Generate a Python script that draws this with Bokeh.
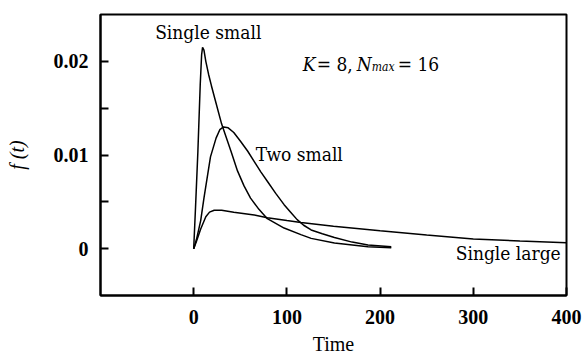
from bokeh.plotting import figure
from bokeh.models import Range1d, FixedTicker, NumeralTickFormatter
from bokeh.core.properties import value
from bokeh.embed import file_html
from bokeh.resources import INLINE

# ---- data ----
single_small_t = [0, 2, 4.5, 7, 8.5, 9.5, 11, 13, 16, 19, 23, 30, 40, 47, 54, 61, 70, 79, 97, 115, 126, 151, 187, 212]
single_small_f = [0, 0.0045, 0.0104, 0.0175, 0.0207, 0.0215, 0.0212, 0.0200, 0.0186, 0.0174, 0.0159, 0.0133, 0.0104,
                  0.0083, 0.0067, 0.0054, 0.0042, 0.0032, 0.0022, 0.0015, 0.0011, 0.0006, 0.0002, 0.0001]

two_small_t = [0, 3, 7.5, 11, 18, 24, 28, 32, 37, 43, 50, 58, 65, 72, 79, 88, 97, 104, 111, 118, 126, 138, 151, 170, 187, 212]
two_small_f = [0, 0.0010, 0.0030, 0.0054, 0.0098, 0.0118, 0.0127, 0.0130, 0.0129, 0.0124, 0.0115, 0.0104, 0.0093,
               0.0082, 0.0072, 0.0059, 0.0047, 0.0039, 0.0031, 0.0025, 0.0020, 0.0016, 0.0012, 0.0007, 0.0004, 0.0002]

single_large_t = [0, 3, 7.5, 13, 17, 22, 30, 43, 65, 79, 100, 115, 150, 200, 250, 300, 350, 400]
single_large_f = [0, 0.0008, 0.0021, 0.0034, 0.0039, 0.0041, 0.0041, 0.0039, 0.0036, 0.0033, 0.0030, 0.0028,
                  0.0024, 0.0019, 0.00145, 0.00104, 0.00083, 0.00064]

x_ticks = [0, 100, 200, 300, 400]
y_ticks = [0, 0.01, 0.02]
y_minor_ticks = [0.005, 0.015]

curve_labels = ["Single small", "Two small", "Single large"]
param_parts = ["K", "= 8,", "N", "max", "= 16"]

AXFONT = "Liberation Serif"
TXFONT = "DejaVu Serif Condensed"
LIFT = -9  # screen-pixel correction of the text baseline

p = figure(width=584, height=359, output_backend="svg", toolbar_location=None,
           x_range=Range1d(-100, 400), y_range=Range1d(-0.005, 0.025),
           min_border_left=100, min_border_right=18, min_border_top=14, min_border_bottom=64)

p.xgrid.visible = False
p.ygrid.visible = False
p.outline_line_color = "black"
p.outline_line_width = 2

for ax in (p.xaxis[0], p.yaxis[0]):
    ax.axis_line_width = 2
    ax.axis_line_color = "black"
    ax.major_tick_in = 8
    ax.major_tick_out = 0
    ax.major_tick_line_width = 2
    ax.minor_tick_in = 8
    ax.minor_tick_out = 0
    ax.minor_tick_line_width = 2
    ax.major_label_text_font = AXFONT
    ax.major_label_text_font_style = "bold"
    ax.major_label_text_font_size = "20px"
    ax.major_label_text_color = "black"
    ax.axis_label_text_font = AXFONT
    ax.axis_label_text_font_size = "20px"
    ax.axis_label_text_color = "black"

p.xaxis[0].ticker = FixedTicker(ticks=x_ticks, minor_ticks=[])
p.yaxis[0].ticker = FixedTicker(ticks=y_ticks, minor_ticks=y_minor_ticks)
p.yaxis[0].formatter = NumeralTickFormatter(format="0.[00]")
p.xaxis[0].major_label_standoff = 14
p.yaxis[0].major_label_standoff = 12
p.xaxis[0].axis_label = "Time"
p.xaxis[0].axis_label_text_font_style = "normal"
p.xaxis[0].axis_label_standoff = 6
p.yaxis[0].axis_label = "f (t)"
p.yaxis[0].axis_label_text_font_style = "italic"
p.yaxis[0].axis_label_standoff = 23

p.line(single_small_t, single_small_f, line_color="black", line_width=1.5)
p.line(two_small_t, two_small_f, line_color="black", line_width=1.5)
p.line(single_large_t, single_large_f, line_color="black", line_width=1.5)

# curve labels
p.text(x=[15.6], y=[0.02214], text=[curve_labels[0]], text_align="center", y_offset=LIFT,
       text_font=value(TXFONT), text_font_size="19px", text_baseline="alphabetic", text_color="black")
p.text(x=[66.5], y=[0.0091], text=[curve_labels[1]], text_align="left", y_offset=LIFT,
       text_font=value(TXFONT), text_font_size="19px", text_baseline="alphabetic", text_color="black")
p.text(x=[393.8], y=[-0.00139], text=[curve_labels[2]], text_align="right", y_offset=LIFT,
       text_font=value(TXFONT), text_font_size="19px", text_baseline="alphabetic", text_color="black")

# parameter annotation: K = 8, N_max = 16
ax0, ay0 = 117, 0.01879
piece_style = [
    dict(x_offset=0, y_offset=LIFT, text_font_style="italic", text_font_size="19px"),
    dict(x_offset=14, y_offset=LIFT, text_font_style="normal", text_font_size="19px"),
    dict(x_offset=54, y_offset=LIFT, text_font_style="italic", text_font_size="19px"),
    dict(x_offset=69, y_offset=LIFT + 3, text_font_style="italic", text_font_size="12px"),
    dict(x_offset=95, y_offset=LIFT, text_font_style="normal", text_font_size="19px"),
]
for part, st in zip(param_parts, piece_style):
    p.text(x=[ax0], y=[ay0], text=[part], text_font=value(TXFONT), text_baseline="alphabetic",
           text_color="black", **st)

open("out.html", "w").write(file_html(p, INLINE))
